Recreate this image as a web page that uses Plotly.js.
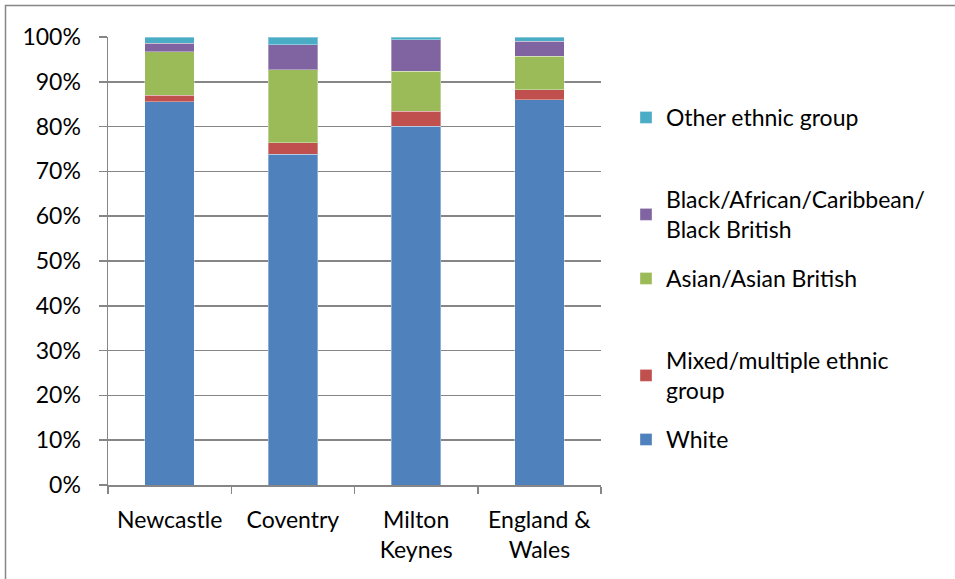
<!DOCTYPE html>
<html>
<head>
<meta charset="utf-8">
<script src="https://cdn.plot.ly/plotly-3.0.1.min.js"></script>
<style>
html,body{margin:0;padding:0;background:#fff;}
#chart{width:955px;height:579px;}
</style>
</head>
<body>
<div id="chart"></div>
<script>
const categories = ["Newcastle", "Coventry", "Milton<br>Keynes", "England &<br>Wales"];
const white = [85.5, 73.8, 80.1, 86.0];
const mixed = [1.5, 2.6, 3.3, 2.2];
const asian = [9.7, 16.3, 9.0, 7.5];
const black = [1.9, 5.6, 7.0, 3.3];
const other = [1.4, 1.7, 0.6, 1.0];
const seriesNames = ["White", "Mixed/multiple ethnic<br>group", "Asian/Asian British", "Black/African/Caribbean/<br>Black British", "Other ethnic group"];
const seriesColors = ["#4F81BD", "#C0504D", "#9BBB59", "#8064A2", "#4BACC6"];
const yTickVals = [0,10,20,30,40,50,60,70,80,90,100];
const yTickText = ["0%","10%","20%","30%","40%","50%","60%","70%","80%","90%","100%"];

const FONT = "Lato, 'Open Sans', sans-serif";
const FS = 23;
const allSeries = [white, mixed, asian, black, other];
const legendIds = ["legend5", "legend4", "legend3", "legend2", "legend"];
const traces = allSeries.map((vals, i) => ({
  type: "bar",
  x: categories,
  y: vals,
  name: seriesNames[i],
  legend: legendIds[i],
  marker: {color: seriesColors[i], line: {color: "rgba(255,255,255,0.35)", width: 1}},
  hoverinfo: "name+y"
}));

const L = 108, R = 354, T = 37, B = 94, PW = 955 - L - R, PH = 579 - T - B;
function py(p){ return (579 - B - p) / PH; }
function px(p){ return (p - L) / PW; }
const legendTops = [96, 178, 257, 339, 418]; // top pixel for Other, Black, Asian, Mixed, White
function mkLegend(top){
  return {x: px(626), y: py(top), xanchor: "left", yanchor: "top",
    font: {family: FONT, size: FS, color: "#000"}, bgcolor: "rgba(0,0,0,0)",
    itemwidth: 30, tracegroupgap: 0};
}

const layout = {
  width: 955, height: 579,
  margin: {l: L, r: R, t: T, b: B},
  paper_bgcolor: "#fff", plot_bgcolor: "#fff",
  barmode: "stack",
  bargap: 0.6,
  font: {family: FONT, size: FS, color: "#000"},
  showlegend: true,
  legend: mkLegend(legendTops[0]),
  legend2: mkLegend(legendTops[1]),
  legend3: mkLegend(legendTops[2]),
  legend4: mkLegend(legendTops[3]),
  legend5: mkLegend(legendTops[4]),
  xaxis: {
    type: "category",
    showline: true, linecolor: "#868686", linewidth: 1.5,
    ticks: "outside", tickson: "boundaries", ticklen: 7, tickcolor: "#868686", tickwidth: 1.5,
    showgrid: false, zeroline: false,
    ticklabelstandoff: 14,
    tickfont: {family: FONT, size: FS, color: "#000"}
  },
  yaxis: {
    range: [0, 100], tickvals: yTickVals, ticktext: yTickText,
    showline: true, linecolor: "#868686", linewidth: 1.5,
    ticks: "outside", ticklen: 8, tickcolor: "#868686", tickwidth: 1.5,
    showgrid: true, gridcolor: "#868686", gridwidth: 1.5,
    zeroline: false,
    ticklabelstandoff: 13,
    tickfont: {family: FONT, size: FS, color: "#000"}
  },
  shapes: [{
    type: "rect", xref: "paper", yref: "paper",
    x0: px(5.5), x1: px(990), y0: py(620), y1: py(5.5),
    line: {color: "#868686", width: 1.5}, fillcolor: "rgba(0,0,0,0)", layer: "below"
  }]
};

Plotly.newPlot("chart", traces, layout, {displayModeBar: false, staticPlot: true});
</script>
</body>
</html>
